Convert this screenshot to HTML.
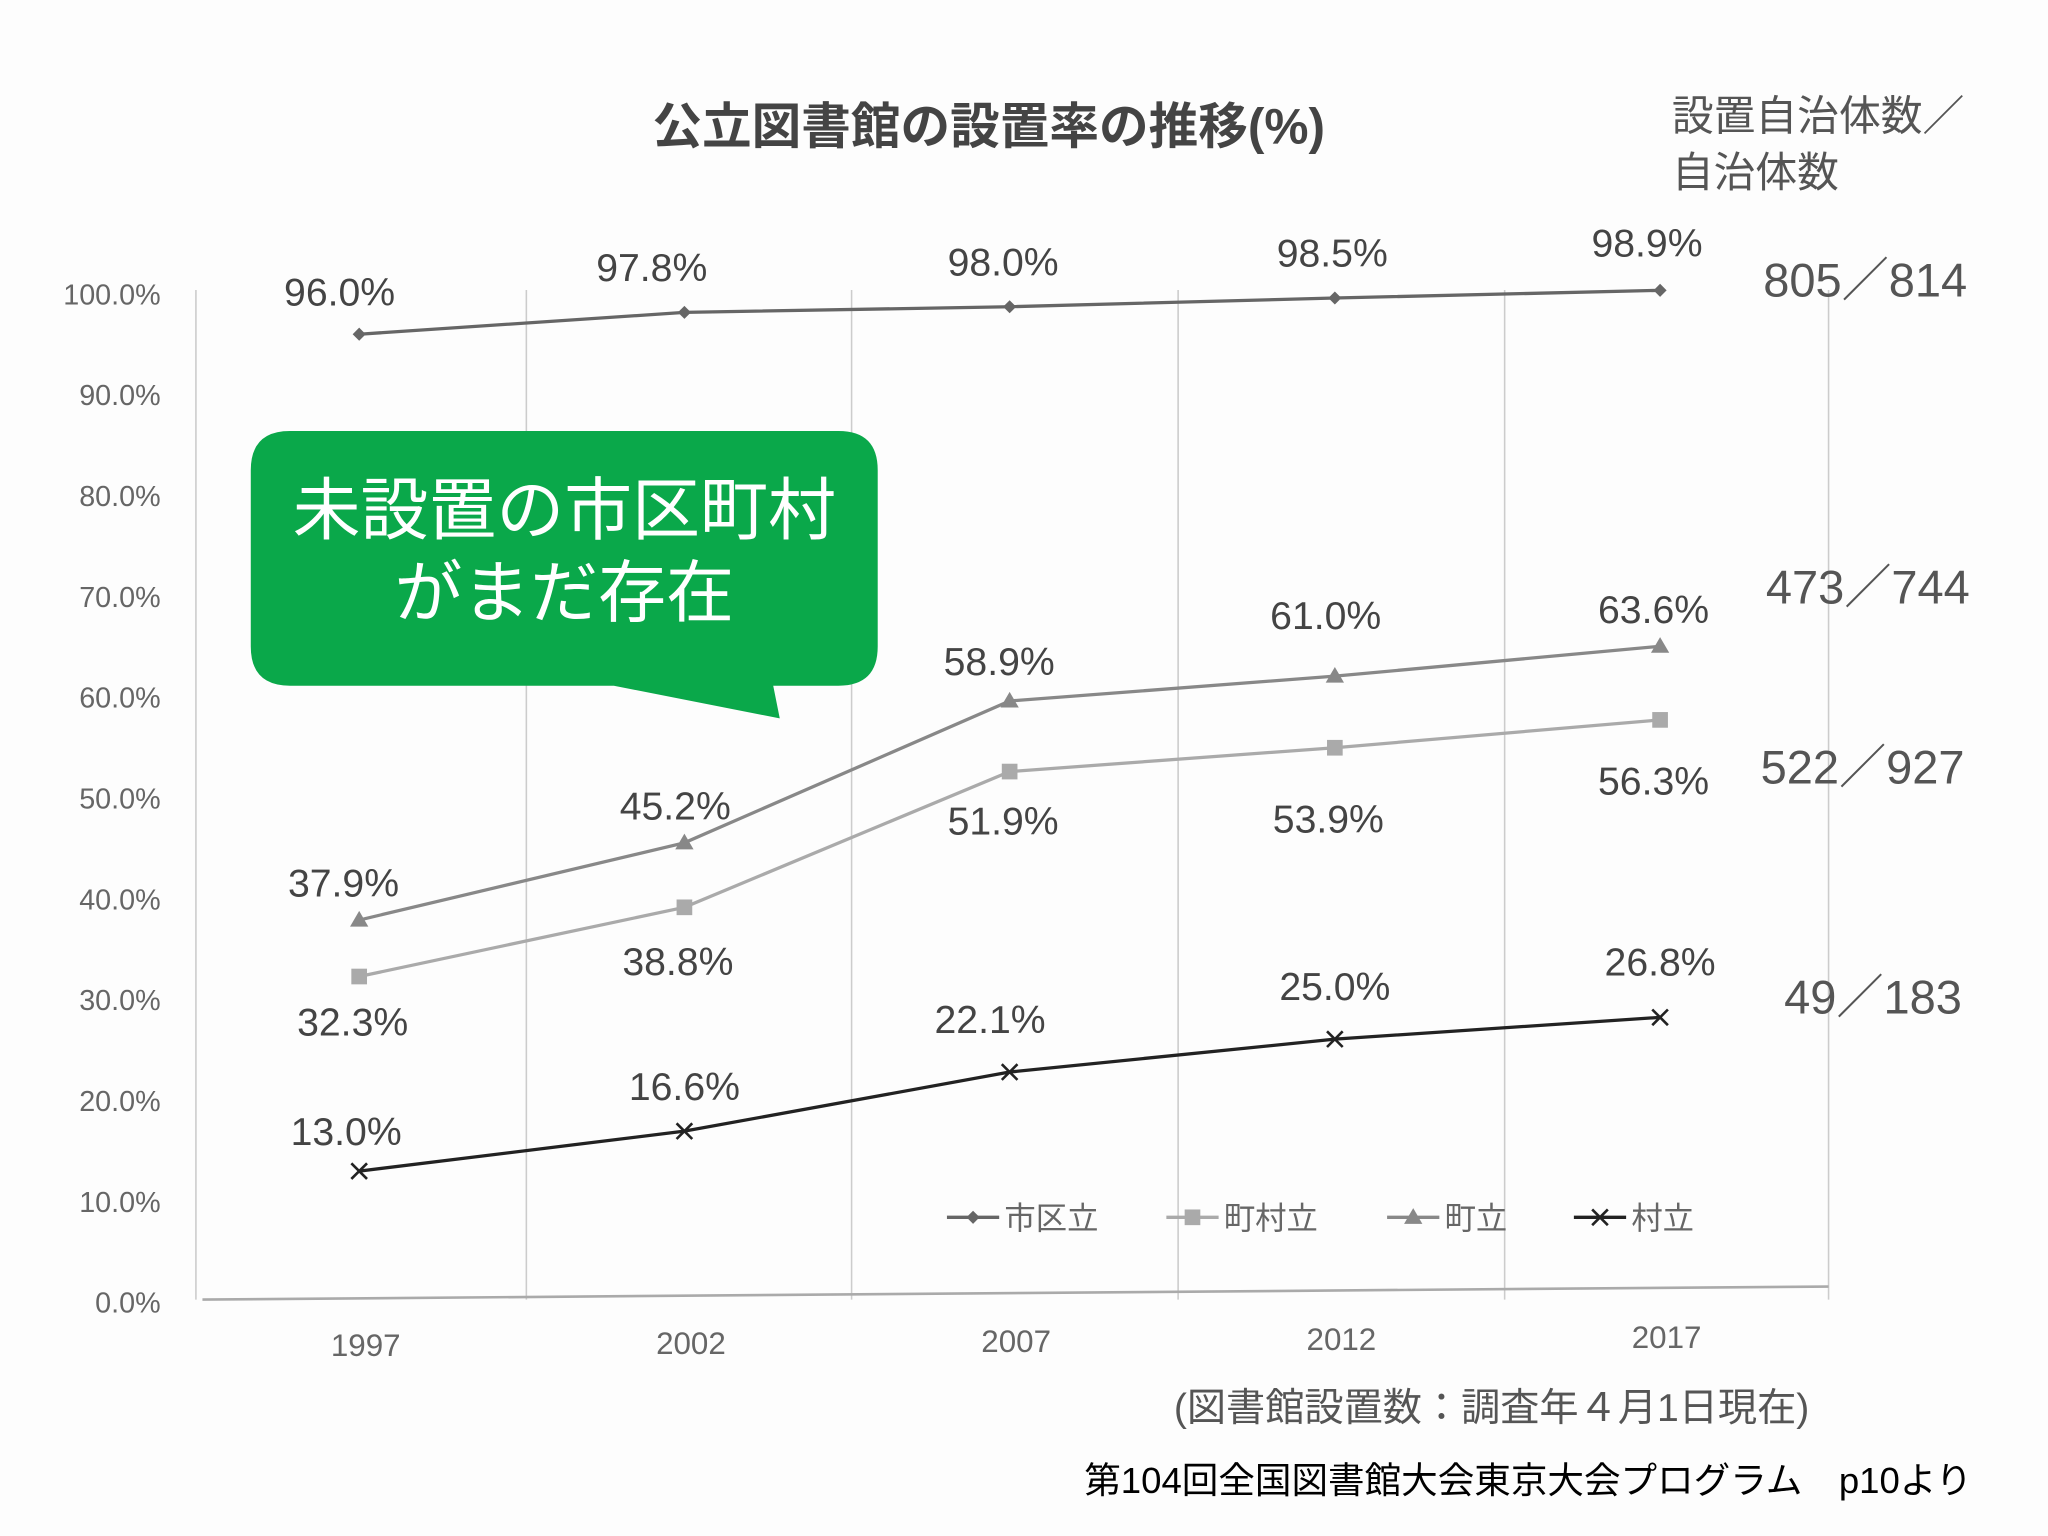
<!DOCTYPE html>
<html><head><meta charset="utf-8"><style>
body{margin:0;background:#fff}
svg{display:block}
text{font-family:"Liberation Sans","Noto Sans CJK JP",sans-serif}
</style></head><body>
<svg width="2048" height="1536" viewBox="0 0 1568 1176" xmlns="http://www.w3.org/2000/svg">
<rect width="1568" height="1176" fill="#fdfdfd"/>
<text x="757" y="110" font-size="38" font-weight="bold" fill="#444" text-anchor="middle">公立図書館の設置率の推移(%)</text>
<text x="1280" y="100" font-size="32" fill="#555">設置自治体数／</text>
<text x="1280" y="143" font-size="32" fill="#555">自治体数</text>
<g id="grid"></g>
<g id="series"></g>
<g>
<path d="M222 330 H642 Q672 330 672 360 V495 Q672 525 642 525 H592 L597 550 L470 525 H222 Q192 525 192 495 V360 Q192 330 222 330 Z" fill="#0aa84a"/>
<text x="432" y="409" font-size="52" fill="#fff" text-anchor="middle">未設置の市区町村</text>
<text x="432" y="472" font-size="52" fill="#fff" text-anchor="middle">がまだ存在</text>
</g>
<g font-size="36" fill="#555">
<text x="1350" y="227">805／814</text>
<text x="1352" y="462">473／744</text>
<text x="1348" y="600">522／927</text>
<text x="1366" y="776">49／183</text>
</g>
<g id="legend" font-size="24" fill="#666"></g>
<text x="1142" y="1088" font-size="30" fill="#555" text-anchor="middle">(図書館設置数：調査年４月1日現在)</text>
<text x="1510" y="1143" font-size="28" fill="#000" text-anchor="end">第104回全国図書館大会東京大会プログラム　p10より</text>
</svg>
<script>
const years=["1997","2002","2007","2012","2017"];
const yTicks=["0.0%","10.0%","20.0%","30.0%","40.0%","50.0%","60.0%","70.0%","80.0%","90.0%","100.0%"];
const shikuritsu=[96.0,97.8,98.0,98.5,98.9];
const sonritsu2=[32.3,38.8,51.9,53.9,56.3];
const choritsu=[37.9,45.2,58.9,61.0,63.6];
const sonritsu=[13.0,16.6,22.1,25.0,26.8];
const ns="http://www.w3.org/2000/svg";
const X=i=>275+i*249;
const Y=(v,i)=>997-v*7.72-(i||0)*2.8;
function mk(t,a,p){const e=document.createElementNS(ns,t);for(const k in a)e.setAttribute(k,a[k]);(p||document.querySelector('svg')).appendChild(e);return e;}
const grid=document.getElementById('grid');
[150,403,652,902,1152,1400].forEach((x,i)=>{const l=mk('line',{x1:x,y1:222,x2:x,y2:995,stroke:'#ccc','stroke-width':1.2},grid);

});
const ax=mk('line',{x1:155,y1:995,x2:1400,y2:985,stroke:'#aaa','stroke-width':2},grid);


yTicks.forEach((t,i)=>{const e=mk('text',{x:123,y:Y(i*10)+8,'font-size':22,fill:'#666','text-anchor':'end'},grid);e.textContent=t;

});
years.forEach((t,i)=>{const e=mk('text',{x:X(i)+5,y:1038-i*1.5,'font-size':24,fill:'#666','text-anchor':'middle'},grid);e.textContent=t;

});
const sg=document.getElementById('series');
function marker(type,x,y,c,g){
 if(type==='d')mk('path',{d:`M${x} ${y-5}L${x+5} ${y}L${x} ${y+5}L${x-5} ${y}Z`,fill:c},g);
 else if(type==='s')mk('rect',{x:x-6,y:y-6,width:12,height:12,fill:c},g);
 else if(type==='t')mk('path',{d:`M${x} ${y-7}L${x+7} ${y+5}L${x-7} ${y+5}Z`,fill:c},g);
 else mk('path',{d:`M${x-6} ${y-6}L${x+6} ${y+6}M${x+6} ${y-6}L${x-6} ${y+6}`,stroke:c,'stroke-width':2},g);
}
const defs=[
 {name:'series-shikuritsu',d:shikuritsu,c:'#666',m:'d',off:[[-15,-22],[-25,-24],[-5,-24],[-2,-24],[-10,-26]]},
 {name:'series-chosonritsu',d:sonritsu2,c:'#aaa',m:'s',off:[[-5,45],[-5,52],[-5,48],[-5,65],[-5,57]]},
 {name:'series-choritsu',d:choritsu,c:'#888',m:'t',off:[[-12,-18],[-7,-18],[-8,-20],[-7,-36],[-5,-18]]},
 {name:'series-sonritsu',d:sonritsu,c:'#222',m:'x',off:[[-10,-20],[0,-24],[-15,-30],[0,-30],[0,-32]]}];
defs.forEach(s=>{
 const g=mk('g',{},sg);
 
 
 mk('polyline',{points:s.d.map((v,i)=>X(i)+','+Y(v,i)).join(' '),fill:'none',stroke:s.c,'stroke-width':2.5},g);
 s.d.forEach((v,i)=>{marker(s.m,X(i),Y(v,i),s.c,g);
  const t=mk('text',{x:X(i)+s.off[i][0],y:Y(v,i)+s.off[i][1],'font-size':30,fill:'#444','text-anchor':'middle'},g);
  t.textContent=v.toFixed(1)+'%';
  
  });
});
const lg=document.getElementById('legend');
[['市区立','#666','d',725],['町村立','#aaa','s',893],['町立','#888','t',1062],['村立','#222','x',1205]].forEach(([n,c,m,x])=>{
 const g=mk('g',{},lg);
 
 
 mk('line',{x1:x,y1:932,x2:x+40,y2:932,stroke:c,'stroke-width':2.5},g);
 marker(m,x+20,932,c,g);
 const t=mk('text',{x:x+44,y:941},g);t.textContent=n;
});
</script>
</body></html>
